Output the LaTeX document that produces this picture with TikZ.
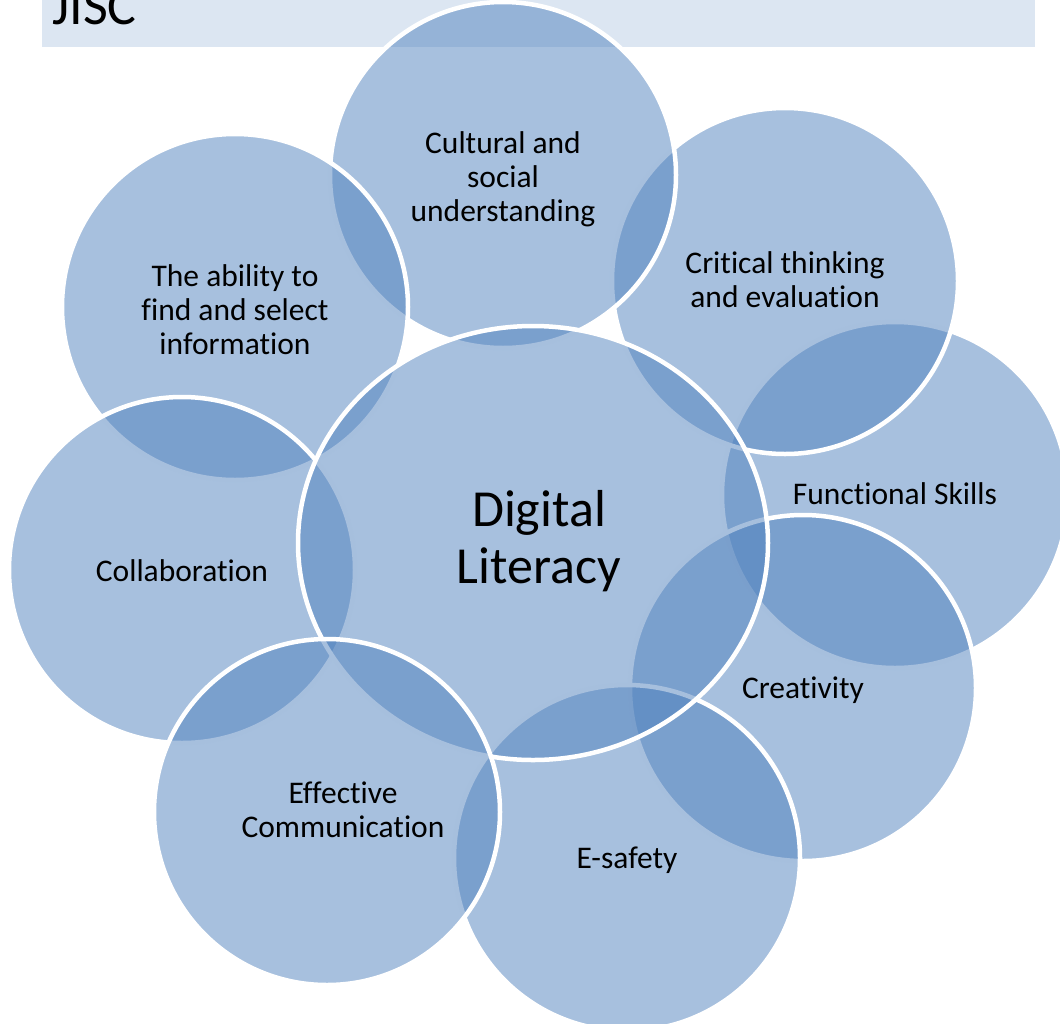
\documentclass[tikz,border=0pt]{standalone}
\usepackage{fontspec}
\setmainfont{Carlito}[Ligatures={NoCommon}]
\usetikzlibrary{shapes.geometric}
\definecolor{bubblue}{RGB}{79,129,189}
\definecolor{headbg}{RGB}{220,230,242}
\begin{document}
\begin{tikzpicture}[x=1pt,y=-1pt,
  bub/.style={circle, fill=bubblue, fill opacity=0.5, draw=white, draw opacity=1,
    line width=4.5pt, inner sep=0pt, outer sep=0pt, minimum size=346pt},
  lbl/.style={font=\fontsize{31.5}{34}\selectfont, align=center, text=black, inner sep=0pt},
  head/.style={fill=headbg, draw=none, inner sep=0pt, outer sep=0pt}]
\useasboundingbox (0,0) rectangle (1060,1023);
% header band
\node[head, minimum width=993pt, minimum height=47pt, anchor=north west] (band) at (42,0) {};
\node[anchor=base west, font=\fontsize{54}{60}\selectfont, inner sep=0pt] (jisc) at (52,24) {JISC};
% bubbles, in stacking order
\node[bub] (func) at (895,495) {};
\node[bub] (crea) at (803,688) {};
\node[bub] (esaf) at (627,858) {};
\node[bub] (crit) at (785,281) {};
\node[bub] (cult) at (503,175) {};
\node[bub] (abil) at (235,307) {};
\node[bub] (coll) at (182,570) {};
\node[bub, ellipse, minimum width=470pt, minimum height=434pt] (core) at (533,543) {};
\node[bub] (effc) at (327,812) {};
% labels
\node[lbl] (tcult) at (503,179) {Cultural and\\social\\understanding};
\node[lbl] (tabil) at (235,310) {The ability to\\find and select\\information};
\node[lbl] (tcrit) at (785,280) {Critical thinking\\and evaluation};
\node[lbl] (tfunc) at (895,494) {Functional Skills};
\node[lbl] (tcoll) at (182,571) {Collaboration};
\node[lbl] (tcrea) at (803,690) {Creativity};
\node[lbl] (tesaf) at (627,860) {E-safety};
\node[lbl] (teffc) at (343,810) {Effective\\Communication};
\node[lbl, font=\fontsize{52}{57}\selectfont] (tcore) at (539,541) {Digital\\Literacy};
\end{tikzpicture}
\end{document}
